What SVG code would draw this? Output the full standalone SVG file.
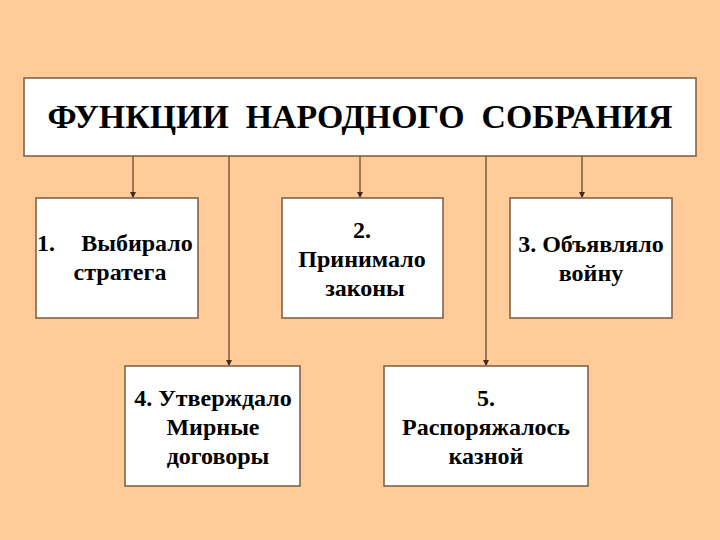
<svg xmlns="http://www.w3.org/2000/svg" width="720" height="540" viewBox="0 0 720 540">
<defs>
<marker id="ah" markerWidth="6" markerHeight="6" refX="5" refY="3" orient="auto" markerUnits="userSpaceOnUse">
<path d="M0,0 L6,3 L0,6 Z" fill="#3d2a18"/>
</marker>
</defs>
<rect width="720" height="540" fill="#ffcc99"/>
<g id="connectors" stroke="#6b4a2e" stroke-width="1.3" fill="none" marker-end="url(#ah)">
<line x1="133" y1="156" x2="133" y2="197"/>
<line x1="229" y1="156" x2="229" y2="365"/>
<line x1="360" y1="156" x2="360" y2="197"/>
<line x1="486" y1="156" x2="486" y2="365"/>
<line x1="582" y1="156" x2="582" y2="197"/>
</g>
<g id="title">
<rect x="24" y="78" width="672" height="78" fill="#fff" stroke="#7a5a3c" stroke-width="1.5"/>
<text x="360" y="128" font-family="'Liberation Serif'" font-weight="bold" font-size="33" text-anchor="middle" textLength="625" lengthAdjust="spacingAndGlyphs" xml:space="preserve">ФУНКЦИИ  НАРОДНОГО  СОБРАНИЯ</text>
</g>
<g id="n1">
<rect x="36" y="198" width="162" height="120" fill="#fff" stroke="#7a5a3c" stroke-width="1.5"/>
<text x="37" y="251" font-family="'Liberation Serif'" font-weight="bold" font-size="24">1.</text>
<text x="137" y="251" font-family="'Liberation Serif'" font-weight="bold" font-size="24" text-anchor="middle">Выбирало</text>
<text x="120" y="280" font-family="'Liberation Serif'" font-weight="bold" font-size="24" text-anchor="middle">стратега</text>
</g>
<g id="n2">
<rect x="282" y="198" width="161" height="120" fill="#fff" stroke="#7a5a3c" stroke-width="1.5"/>
<text x="362" y="238" font-family="'Liberation Serif'" font-weight="bold" font-size="24" text-anchor="middle">2.</text>
<text x="362" y="267" font-family="'Liberation Serif'" font-weight="bold" font-size="24" text-anchor="middle">Принимало</text>
<text x="365" y="296" font-family="'Liberation Serif'" font-weight="bold" font-size="24" text-anchor="middle">законы</text>
</g>
<g id="n3">
<rect x="510" y="198" width="162" height="120" fill="#fff" stroke="#7a5a3c" stroke-width="1.5"/>
<text x="591" y="252" font-family="'Liberation Serif'" font-weight="bold" font-size="24" text-anchor="middle">3. Объявляло</text>
<text x="591" y="281" font-family="'Liberation Serif'" font-weight="bold" font-size="24" text-anchor="middle">войну</text>
</g>
<g id="n4">
<rect x="125" y="366" width="175" height="120" fill="#fff" stroke="#7a5a3c" stroke-width="1.5"/>
<text x="213" y="406" font-family="'Liberation Serif'" font-weight="bold" font-size="24" text-anchor="middle">4. Утверждало</text>
<text x="213" y="435" font-family="'Liberation Serif'" font-weight="bold" font-size="24" text-anchor="middle">Мирные</text>
<text x="218" y="464" font-family="'Liberation Serif'" font-weight="bold" font-size="24" text-anchor="middle">договоры</text>
</g>
<g id="n5">
<rect x="384" y="366" width="204" height="120" fill="#fff" stroke="#7a5a3c" stroke-width="1.5"/>
<text x="486" y="406" font-family="'Liberation Serif'" font-weight="bold" font-size="24" text-anchor="middle">5.</text>
<text x="486" y="435" font-family="'Liberation Serif'" font-weight="bold" font-size="24" text-anchor="middle">Распоряжалось</text>
<text x="486" y="464" font-family="'Liberation Serif'" font-weight="bold" font-size="24" text-anchor="middle">казной</text>
</g>
</svg>
